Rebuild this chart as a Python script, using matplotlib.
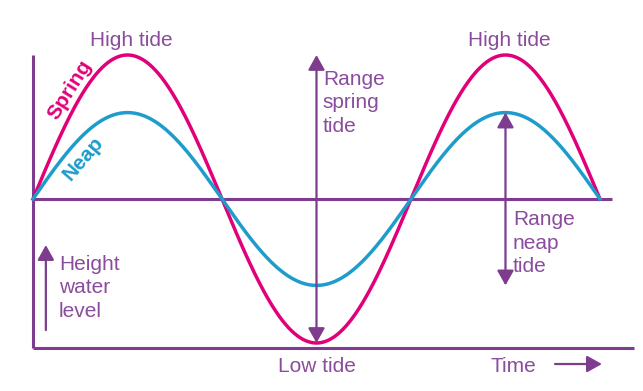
import matplotlib.pyplot as plt
import numpy as np

# schematic tide curves: time in tidal cycles, height relative to spring amplitude
cycles = 1.5
spring_amp = 1.0
neap_amp = 0.6
t = np.linspace(0, cycles, 600)

PURPLE = "#7D3C8E"
TEXT = "#8A4C9C"
MAGENTA = "#E2007A"
CYAN = "#1E9CCB"

plt.rcParams["font.family"] = ["Liberation Sans", "DejaVu Sans"]

fig = plt.figure(figsize=(6.43, 3.91), dpi=100)
ax = fig.add_axes([0, 0, 1, 1])
ax.set_xlim(-0.0873, 1.6138)
ax.set_ylim(-1.3333, 1.3819)
ax.axis("off")

# axes of the diagram
ax.plot([0, 0], [spring_amp, -1.035], color=PURPLE, lw=2.2, solid_capstyle="butt")
ax.plot([0, 1.59], [-1.035, -1.035], color=PURPLE, lw=2.2, solid_capstyle="butt")
ax.plot([0, 1.532], [0, 0], color=PURPLE, lw=2.2, solid_capstyle="butt")

# tide curves
ax.plot(t, spring_amp * np.sin(2 * np.pi * t), color=MAGENTA, lw=2.5)
ax.plot(t, neap_amp * np.sin(2 * np.pi * t), color=CYAN, lw=2.5)


def arrow(x0, y0, x1, y1, style):
    ax.annotate("", xy=(x1, y1), xytext=(x0, y0),
                arrowprops=dict(arrowstyle=style + ",head_length=0.5,head_width=0.28",
                                color=PURPLE, lw=1.6, shrinkA=0, shrinkB=0,
                                mutation_scale=18))


# range arrows
arrow(0.75, -spring_amp, 0.75, spring_amp, "<|-|>")
arrow(1.25, neap_amp, 1.25, -neap_amp, "<|-|>")
# height and time arrows
arrow(0.034, -0.91, 0.034, -0.32, "-|>")
arrow(1.381, -1.146, 1.505, -1.146, "-|>")

fs = 15
ax.text(0.26, 1.10, "High tide", color=TEXT, fontsize=fs, ha="center", va="center")
ax.text(1.26, 1.10, "High tide", color=TEXT, fontsize=fs, ha="center", va="center")
ax.text(0.751, -1.16, "Low tide", color=TEXT, fontsize=fs, ha="center", va="center")
ax.text(1.271, -1.16, "Time", color=TEXT, fontsize=fs, ha="center", va="center")
ax.text(0.767, 0.667, "Range\nspring\ntide", color=TEXT, fontsize=fs,
        ha="left", va="center", linespacing=1.3)
ax.text(1.27, -0.306, "Range\nneap\ntide", color=TEXT, fontsize=fs,
        ha="left", va="center", linespacing=1.3)
ax.text(0.069, -0.618, "Height\nwater\nlevel", color=TEXT, fontsize=fs,
        ha="left", va="center", linespacing=1.3)

ax.text(0.098, 0.76, "Spring", color=MAGENTA, fontsize=fs, fontweight="bold",
        rotation=58, ha="center", va="center", rotation_mode="anchor")
ax.text(0.132, 0.28, "Neap", color=CYAN, fontsize=fs, fontweight="bold",
        rotation=49, ha="center", va="center", rotation_mode="anchor")

fig.savefig("out.png", dpi=100)
